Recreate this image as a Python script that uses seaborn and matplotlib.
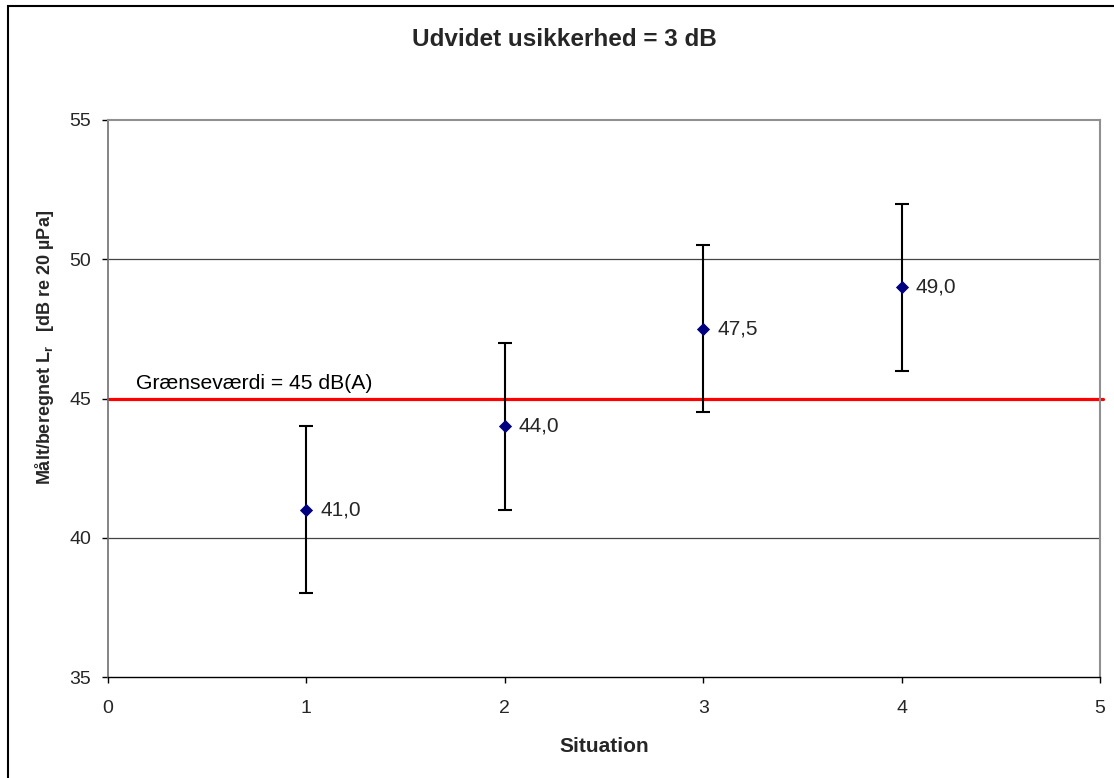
import matplotlib
matplotlib.use("Agg")
import matplotlib.pyplot as plt
import pandas as pd
import seaborn as sns
from matplotlib.patches import Rectangle

situations = [1, 2, 3, 4]
levels = [41.0, 44.0, 47.5, 49.0]
uncertainty = [3, 3, 3, 3]
value_labels = ["41,0", "44,0", "47,5", "49,0"]
limit_value = 45
limit_label = "Grænseværdi = 45 dB(A)"
x_ticks = [0, 1, 2, 3, 4, 5]
y_ticks = [35, 40, 45, 50, 55]

FONT = "Liberation Sans"

sns.set_style("white")
plt.rcParams["font.family"] = [FONT, "DejaVu Sans"]
plt.rcParams["mathtext.fontset"] = "custom"
plt.rcParams["mathtext.rm"] = f"{FONT}:bold"

df = pd.DataFrame({"Situation": situations, "Level": levels, "Err": uncertainty})

W, H = 1114, 778
fig = plt.figure(figsize=(W / 100, H / 100), dpi=100)
ax = fig.add_axes([108 / W, 1 - 677 / H, 992 / W, 557 / H])

# outer frame of the chart object
fig.patches.append(
    Rectangle((8 / W, -0.05), 1.2, 1 - 6 / H + 0.05, transform=fig.transFigure,
              fill=False, edgecolor="black", linewidth=1.5)
)

ax.set_xlim(0, 5)
ax.set_ylim(35, 55)
ax.set_xticks(x_ticks)
ax.set_yticks(y_ticks)
for y in y_ticks[1:-1]:
    ax.axhline(y, color="#444444", linewidth=0.9, zorder=1)

ax.axhline(limit_value, xmin=0, xmax=1.003, color="#ff0000", linewidth=2.3,
           zorder=2, clip_on=False)
ax.text(0.14, limit_value + 0.2, limit_label, fontsize=15.2, ha="left",
        va="bottom", color="black")

ax.errorbar(df["Situation"], df["Level"], yerr=df["Err"], fmt="none",
            ecolor="black", elinewidth=1.5, capsize=4.7, capthick=1.5, zorder=3)
sns.scatterplot(data=df, x="Situation", y="Level", marker="D", s=45,
                color="#000080", edgecolor="#000080", linewidth=0, ax=ax,
                zorder=4)

for x, y, lab in zip(situations, levels, value_labels):
    ax.annotate(lab, (x, y), xytext=(10, 0), textcoords="offset points",
                ha="left", va="center", fontsize=15)

for side in ["top", "right"]:
    ax.spines[side].set_color("#909090")
    ax.spines[side].set_linewidth(1.5)
ax.spines["left"].set_color("#707070")
ax.spines["left"].set_linewidth(1.2)
ax.spines["bottom"].set_color("black")
ax.spines["bottom"].set_linewidth(1.0)

ax.tick_params(axis="both", direction="out", length=4.3, width=1, color="black",
               labelsize=14, left=True, bottom=True)
ax.tick_params(axis="y", pad=8)
ax.tick_params(axis="x", pad=12)
ax.set_xlabel("")
ax.set_ylabel("")

fig.text(564 / W, 1 - 40 / H, "Udvidet usikkerhed = 3 dB", ha="center",
         va="center", fontsize=17.5, fontweight="bold")
fig.text(604 / W, 1 - 747 / H, "Situation", ha="center", va="center",
         fontsize=15, fontweight="bold")
fig.text(45 / W, 1 - 347 / H,
         "Målt/beregnet L$_\\mathrm{r}$   [dB re 20 µPa]",
         ha="center", va="center", rotation=90, fontsize=13, fontweight="bold")

fig.savefig("out.png", dpi=100, facecolor="white")
